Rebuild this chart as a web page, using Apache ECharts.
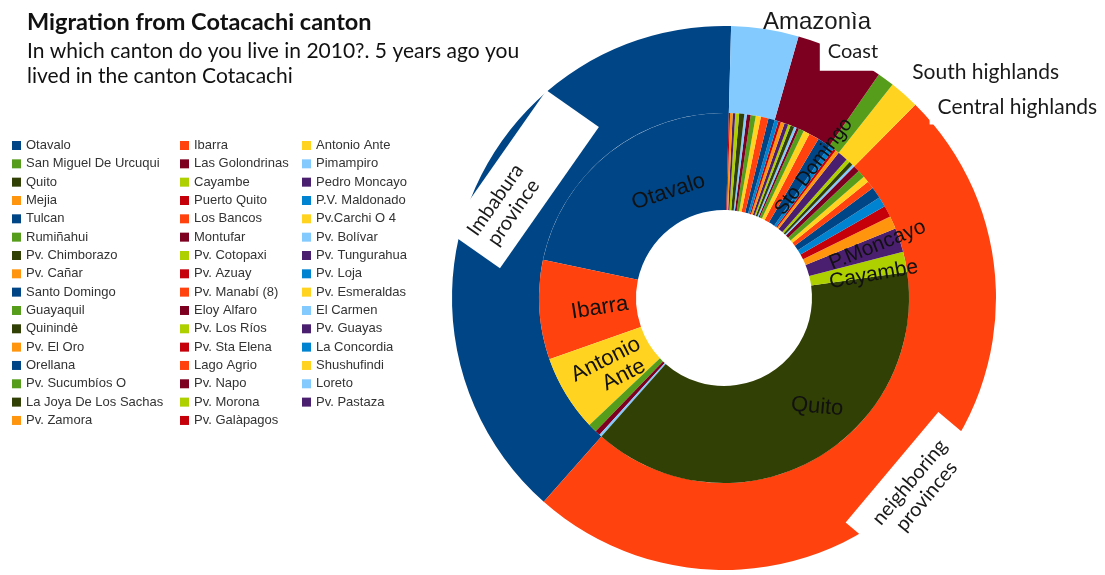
<!DOCTYPE html>
<html><head><meta charset="utf-8">
<script src="https://cdn.jsdelivr.net/npm/echarts@6/dist/echarts.min.js"></script>
<style>html,body{margin:0;padding:0;background:#fff}#chart{width:1105px;height:575px}</style>
</head><body><div id="chart"></div>
<script>
// ---- data ----
const cantons = ['Otavalo','Ibarra','Antonio Ante','San Miguel De Urcuqui','Las Golondrinas','Pimampiro',
 'Quito','Cayambe','Pedro Moncayo','Mejia','Puerto Quito','P.V. Maldonado','Tulcan','Los Bancos','Pv.Carchi O 4','Rumiñahui','Montufar',
 'Pv. Bolívar','Pv. Chimborazo','Pv. Cotopaxi','Pv. Tungurahua',
 'Pv. Cañar','Pv. Azuay','Pv. Loja',
 'Santo Domingo','Pv. Manabí (8)','Pv. Esmeraldas','Guayaquil','Eloy Alfaro','El Carmen','Quinindè','Pv. Los Ríos','Pv. Guayas','Pv. El Oro','Pv. Sta Elena','La Concordia',
 'Orellana','Lago Agrio','Shushufindi','Pv. Sucumbíos O','Pv. Napo','Loreto','La Joya De Los Sachas','Pv. Morona','Pv. Pastaza','Pv. Zamora','Pv. Galàpagos'];
const cantonCounts = [199,78,60,7,4,2,
 349,16,19,10,9,8,9,6,5,6,5,
 2,3,3,8,
 3,2,4,
 10,8,5,4,2,2,3,2,3,3,2,3,
 5,6,4,4,3,2,4,3,2,2,1];
const cantonRegion = [0,0,0,0,0,0,
 1,1,1,1,1,1,1,1,1,1,1,
 2,2,2,2,
 3,3,3,
 4,4,4,4,4,4,4,4,4,4,4,4,
 5,5,5,5,5,5,5,5,5,5,5];
const regions = ['Imbabura province','neighboring provinces','Central highlands','South highlands','Coast','Amazonìa'];
const titleText = 'Migration from Cotacachi canton';
const subText = 'In which canton do you live in 2010?. 5 years ago you\nlived in the canton Cotacachi';

// ---- styling ----
const palette = ['#004586','#ff420e','#ffd320','#579d1c','#7e0021','#83caff','#314004','#aecf00','#4b1f6f','#ff950e','#c5000b','#0084d1'];
const regionCounts = regions.map((_, r) => cantonCounts.reduce((s, v, i) => s + (cantonRegion[i] === r ? v : 0), 0));

// label style: rotation and screen-space nudge (sx, sy)
const innerLabels = {
  'Otavalo': {rotate: 18, sx: 31, sy: 3.5},
  'Ibarra': {rotate: 9, sx: 15, sy: 1},
  'Antonio Ante': {text: 'Antonio\n   Ante', rotate: 27, sx: 6, sy: -1},
  'Quito': {rotate: -5, sx: 27, sy: -14},
  'Cayambe': {rotate: 10, sx: 13, sy: 4, fontSize: 21},
  'Pedro Moncayo': {text: 'P.Moncayo', rotate: 22, sx: 21, sy: -9, fontSize: 21},
  'Santo Domingo': {text: 'Sto Domingo', rotate: 53, sx: 14.5, sy: -14, fontSize: 20}
};
const outerLabels = {
  'Imbabura province': {text: 'Imbabura\nprovince', rotate: 55, box: [10, 78, 10, 12], sx: 14.6, sy: -34},
  'neighboring provinces': {text: 'neighboring\nprovinces', rotate: 50, box: [12, 20, 12, 20], sx: 25, sy: 33},
  'Central highlands': {box: [6, 8, 6, 8], fontSize: 21, sx: 140, sy: -17},
  'South highlands': {fontSize: 21, sx: 124, sy: -40},
  'Coast': {box: [8, 8, 8, 8], sx: 30, sy: -37},
  'Amazonìa': {family: 'Liberation Sans', fontSize: 24, sx: 58, sy: -47}
};
// labelLayout dx/dy act in the label's rotated frame: convert the screen nudge
function nudge(c) {
  if (!c) return {};
  const t = (c.rotate || 0) * Math.PI / 180;
  return {dx: c.sx * Math.cos(t) - c.sy * Math.sin(t), dy: c.sx * Math.sin(t) + c.sy * Math.cos(t)};
}

const innerData = cantons.map((n, i) => {
  const c = innerLabels[n];
  return {
    name: n, value: cantonCounts[i],
    itemStyle: {color: palette[i % 12]},
    label: c ? {show: true, position: 'inside', rotate: c.rotate, formatter: c.text || n,
      fontFamily: 'Liberation Sans', fontSize: c.fontSize || 22, lineHeight: 22, color: '#111'} : {show: false}
  };
});
const outerData = regions.map((n, i) => {
  const c = outerLabels[n];
  const lab = {show: true, position: 'inside', rotate: c.rotate || 0, formatter: c.text || n,
    fontFamily: c.family || 'Lato', fontSize: c.fontSize || 20, lineHeight: 22, color: '#1a1a1a'};
  if (c.box) { lab.backgroundColor = '#fff'; lab.padding = c.box; }
  return {name: n, value: regionCounts[i], itemStyle: {color: palette[i % 12]}, label: lab};
});

const chart = echarts.init(document.getElementById('chart'), null, {renderer: 'canvas'});
const common = {
  type: 'pie', center: [724, 298], startAngle: 88.5, clockwise: false,
  avoidLabelOverlap: false, animation: false, silent: true,
  emphasis: {disabled: true}, labelLine: {show: false},
  itemStyle: {borderWidth: 0}
};
chart.setOption({
  animation: false,
  title: {
    text: titleText, subtext: subText, left: 22, top: 5, itemGap: 5,
    textStyle: {fontFamily: 'Lato', fontWeight: 'bold', fontSize: 23.5, color: '#111'},
    subtextStyle: {fontFamily: 'Lato', fontSize: 21, lineHeight: 25, color: '#111'}
  },
  legend: [0, 1, 2].map(c => ({
    orient: 'vertical', left: [12, 180, 302][c], top: 139, padding: 0,
    itemWidth: 9, itemHeight: 9, itemGap: 5.33, icon: 'rect', selectedMode: false,
    textStyle: {fontFamily: 'Liberation Sans', fontSize: 13, lineHeight: 13, color: '#333'},
    data: cantons.filter((_, i) => i % 3 === c)
  })),
  series: [
    Object.assign({}, common, {
      name: 'regions', radius: [185, 272], data: outerData, z: 2,
      labelLayout: p => nudge(outerLabels[regions[p.dataIndex]])
    }),
    Object.assign({}, common, {
      name: 'cantons', radius: [88, 185], data: innerData, z: 3,
      labelLayout: p => nudge(innerLabels[cantons[p.dataIndex]])
    })
  ]
});
</script></body></html>
